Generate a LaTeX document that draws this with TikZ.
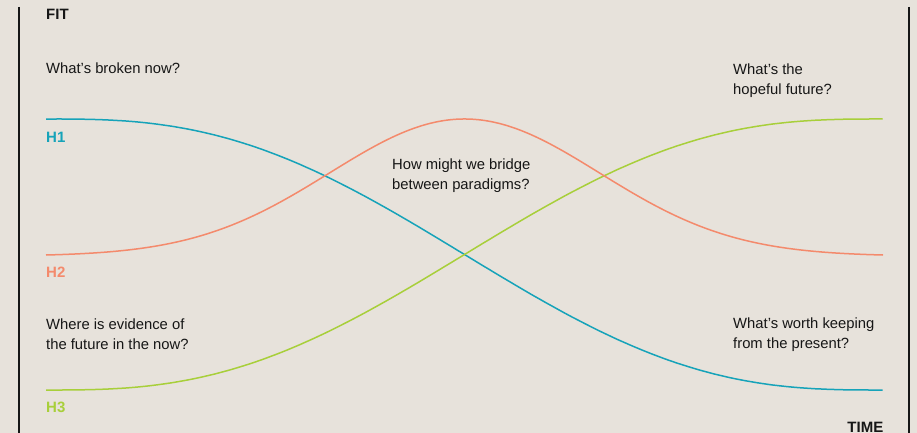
\documentclass[tikz,border=0pt]{standalone}
\usepackage{fontspec}
\setmainfont{Liberation Sans}
\definecolor{bg}{HTML}{E7E2DB}
\definecolor{hone}{HTML}{16A3B9}
\definecolor{htwo}{HTML}{F48A6C}
\definecolor{hthree}{HTML}{A8CF3A}
\definecolor{ink}{HTML}{161616}
\tikzset{
  axisline/.style={draw=ink, line width=2pt},
  curve/.style={line width=1.5pt},
  question/.style={anchor=base west, align=left, inner sep=0pt, text=ink,
    font=\fontsize{14.8}{20}\selectfont},
  tag/.style={anchor=base west, inner sep=0pt, text depth=0pt, font=\fontsize{15}{16}\selectfont\bfseries},
}
\begin{document}
\begin{tikzpicture}[x=1pt, y=-1pt]
\path[use as bounding box, fill=bg] (0,0) rectangle (917,433);
% axes
\coordinate (ltop) at (19,7);
\coordinate (lbot) at (19,433);
\coordinate (rtop) at (909,7);
\coordinate (rbot) at (909,433);
\draw[axisline] (ltop) -- (lbot);
\draw[axisline] (rtop) -- (rbot);
% curves
\draw[curve, hone] plot[domain=0:1, samples=160, smooth]
  ({46+837*\x}, {119+271*(10*\x^3-15*\x^4+6*\x^5)});
\draw[curve, hthree] plot[domain=0:1, samples=160, smooth]
  ({46+837*\x}, {390-271*(10*\x^3-15*\x^4+6*\x^5)});
\draw[curve, htwo] plot[domain=46:883, samples=180, smooth]
  (\x, {255-136*(exp(-0.5*((\x-464.5)/135)^2)-0.00819)/(1-0.00819)});
% labels
\node[tag, text=ink] (fit) at (46,20) {FIT};
\node[tag, text=hone] (h1) at (46,142.6) {H1};
\node[tag, text=htwo] (h2) at (46,277.2) {H2};
\node[tag, text=hthree] (h3) at (46,412.6) {H3};
\node[tag, text=ink, anchor=base east] (time) at (883.5,432.5) {TIME};
% questions (base anchor = baseline of last line)
\node[question] (broken) at (46,74) {What’s broken now?};
\node[question] (hopeful) at (733,94.3) {What’s the\\hopeful future?};
\node[question] (bridge) at (392,189) {How might we bridge\\between paradigms?};
\node[question] (evidence) at (46,349) {Where is evidence of\\the future in the now?};
\node[question] (keeping) at (733,348.3) {What’s worth keeping\\from the present?};
\end{tikzpicture}
\end{document}
